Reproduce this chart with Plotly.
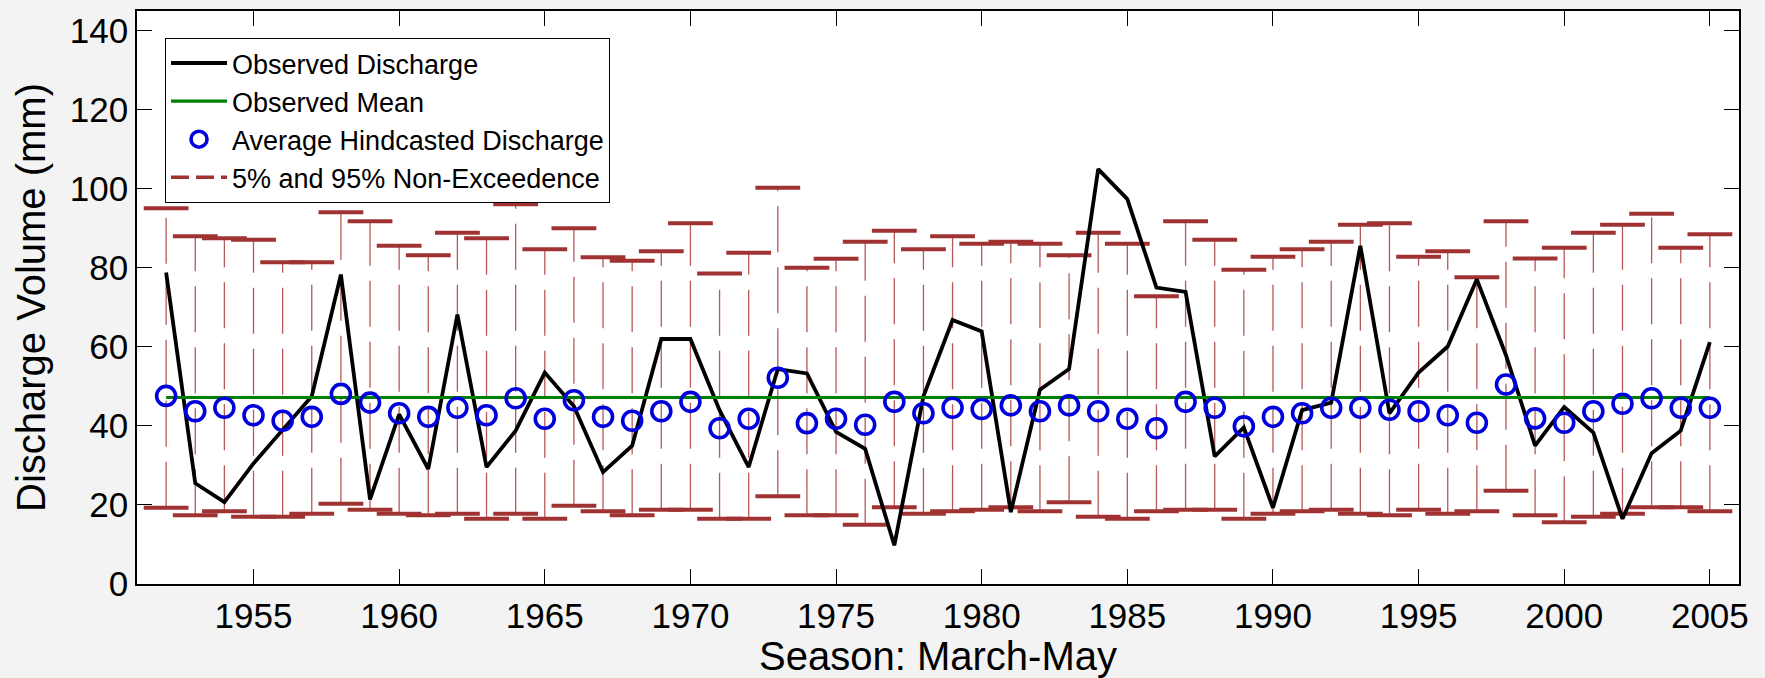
import plotly.graph_objects as go

years = list(range(1952, 2006))

observed = [78.8, 25.5, 20.7, 30.5, 39.0, 47.5, 78.3, 21.4, 42.9, 29.1,
            68.2, 29.6, 38.8, 53.5, 45.0, 28.3, 35.0, 62.0, 62.0, 44.0,
            29.6, 54.4, 53.3, 38.5, 34.2, 9.8, 47.5, 66.8, 63.9, 18.2,
            49.2, 54.4, 105.0, 97.4, 75.0, 73.9, 32.3, 39.6, 19.3, 44.0,
            45.9, 85.6, 43.2, 53.5, 60.1, 77.1, 57.9, 35.0, 44.8, 38.3,
            16.5, 33.1, 38.8, 61.2]

observed_mean = 47.2

hindcast = [47.6, 43.7, 44.6, 42.7, 41.3, 42.3, 48.1, 45.9, 43.2, 42.3,
            44.6, 42.7, 47.0, 41.8, 46.5, 42.3, 41.3, 43.7, 46.1, 39.4,
            41.8, 52.2, 40.7, 41.8, 40.3, 46.1, 43.2, 44.6, 44.3, 45.2,
            43.7, 45.2, 43.7, 41.8, 39.4, 46.1, 44.6, 39.9, 42.3, 43.2,
            44.6, 44.6, 44.1, 43.7, 42.7, 40.8, 50.5, 41.9, 40.8, 43.7,
            45.6, 47.0, 44.6, 44.6]

upper95 = [95.1, 88.0, 87.5, 87.1, 81.4, 81.4, 94.1, 91.8, 85.6, 83.2,
           88.9, 87.5, 96.1, 84.7, 90.0, 82.7, 81.8, 84.2, 91.3, 78.6,
           83.8, 100.3, 80.0, 82.3, 86.6, 89.4, 84.7, 88.0, 86.1, 86.6,
           86.1, 83.2, 88.9, 86.1, 72.8, 91.8, 87.1, 79.5, 82.8, 84.7,
           86.6, 90.9, 91.3, 82.8, 84.2, 77.6, 91.8, 82.4, 85.1, 88.9,
           90.9, 93.7, 85.1, 88.5]

lower5 = [19.3, 17.4, 18.4, 17.0, 17.0, 17.8, 20.3, 18.8, 17.8, 17.4,
          17.8, 16.5, 17.8, 16.5, 19.8, 18.4, 17.4, 18.8, 18.8, 16.5,
          16.5, 22.2, 17.4, 17.4, 15.0, 19.4, 17.8, 18.4, 18.8, 19.4,
          18.4, 20.7, 17.0, 16.5, 18.4, 18.8, 18.8, 16.5, 17.8, 18.4,
          18.8, 17.8, 17.4, 18.8, 17.8, 18.4, 23.6, 17.4, 15.6, 17.0,
          17.8, 19.4, 19.4, 18.4]

x_ticks = [1955, 1960, 1965, 1970, 1975, 1980, 1985, 1990, 1995, 2000, 2005]
y_ticks = [0, 20, 40, 60, 80, 100, 120, 140]

BROWN = "#a03232"
FONT = "Arial, Liberation Sans, Helvetica, sans-serif"

# dashed vertical whiskers (lower -> upper)
wx, wy = [], []
for yr, lo, hi in zip(years, lower5, upper95):
    wx += [yr, yr, None]
    wy += [lo, hi, None]

fig = go.Figure()

fig.add_trace(go.Scatter(
    x=wx, y=wy, mode="lines",
    line=dict(color="rgba(170,60,60,0.85)", width=1.3, dash="46px,15px"),
    showlegend=False, hoverinfo="skip"))

# caps
fig.add_trace(go.Scatter(
    x=years + years, y=upper95 + lower5, mode="markers",
    marker=dict(symbol="line-ew", size=32, line=dict(color=BROWN, width=4)),
    showlegend=False, hoverinfo="skip"))

fig.add_trace(go.Scatter(
    x=years, y=observed, mode="lines", name="Observed Discharge",
    line=dict(color="black", width=3.8)))

fig.add_trace(go.Scatter(
    x=[years[0], years[-1]], y=[observed_mean, observed_mean], mode="lines",
    name="Observed Mean", line=dict(color="#008000", width=3.2)))

fig.add_trace(go.Scatter(
    x=years, y=hindcast, mode="markers", name="Average Hindcasted Discharge",
    marker=dict(symbol="circle-open", size=19, color="#0000dd",
                line=dict(color="#0000dd", width=3.6))))

# legend proxy for whiskers
fig.add_trace(go.Scatter(
    x=[None], y=[None], mode="lines", name="5% and 95% Non-Exceedence",
    line=dict(color=BROWN, width=3.5, dash="18px,7px")))

fig.update_layout(
    width=1765, height=678,
    margin=dict(l=137, r=26, t=9, b=94),
    paper_bgcolor="#f3f3f3", plot_bgcolor="white",
    font=dict(family=FONT, color="black"),
    showlegend=True,
    legend=dict(x=0.0175, y=0.953, xanchor="left", yanchor="top",
                bgcolor="white", bordercolor="black", borderwidth=1,
                font=dict(size=27, family=FONT), tracegroupgap=0,
                itemwidth=56),
)

fig.update_xaxes(
    range=[1951, 2006], tickvals=x_ticks, ticktext=[str(v) for v in x_ticks],
    ticks="inside", ticklen=15, tickwidth=1, tickcolor="black",
    showline=True, linecolor="black", linewidth=1.5, mirror="ticks",
    showgrid=False, zeroline=False,
    tickfont=dict(size=35, family=FONT),
    title=dict(text="Season: March-May", font=dict(size=40, family=FONT), standoff=4))

fig.update_yaxes(
    range=[0, 145], tickvals=y_ticks, ticktext=[str(v) for v in y_ticks],
    ticks="inside", ticklen=15, tickwidth=1, tickcolor="black",
    showline=True, linecolor="black", linewidth=1.5, mirror="ticks",
    showgrid=False, zeroline=False,
    tickfont=dict(size=35, family=FONT),
    title=dict(text="Discharge Volume (mm)", font=dict(size=40, family=FONT), standoff=12))

fig.write_html("out.html")
